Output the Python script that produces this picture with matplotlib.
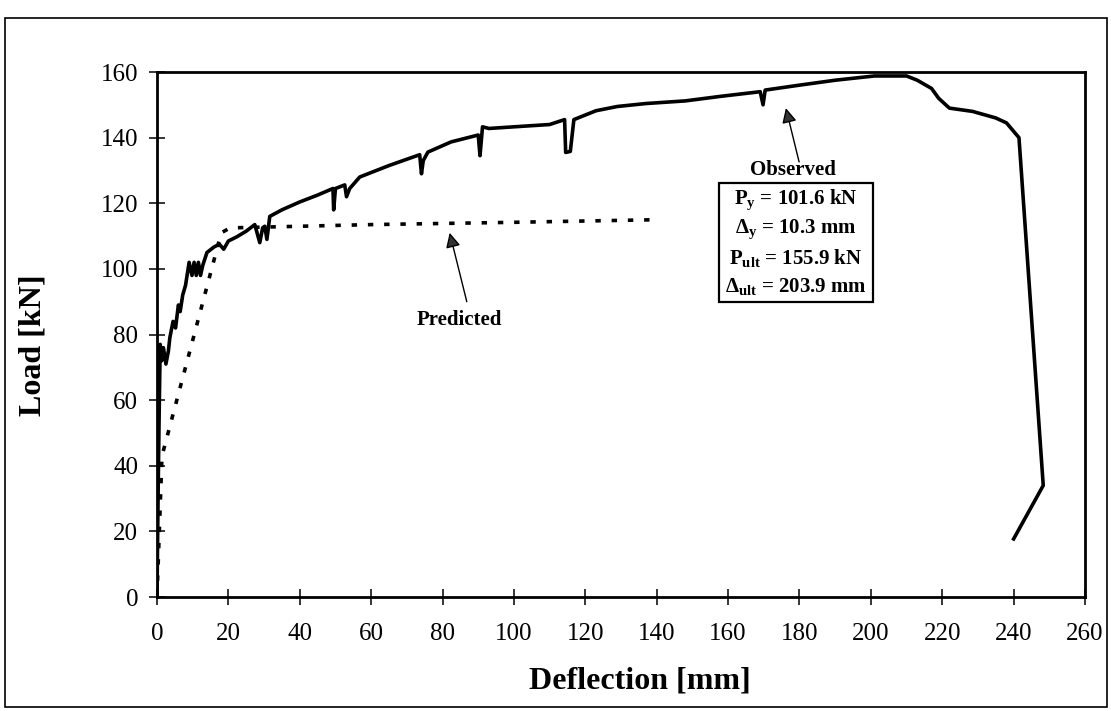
import matplotlib.pyplot as plt
from matplotlib.patches import Rectangle

# observed load-deflection curve
obs_x = [0, 0.3, 0.6, 0.9, 1.3, 1.8, 2.5, 3.2, 3.6, 4.5, 5.2, 6.0, 6.5, 7.2, 8.0, 9.0,
         9.8, 10.4, 11.0, 11.6, 12.2, 12.8, 14.0, 16.0, 17.5, 18.7, 20.0, 22.4, 25.0,
         27.4, 28.8, 29.6, 30.2, 30.8, 31.6, 35.0, 40.0, 45.0, 49.3, 49.5, 50.0, 52.6,
         53.1, 54.0, 56.8, 65.0, 73.6, 74.1, 74.6, 75.9, 82.4, 90.0, 90.5, 91.2, 93.0,
         100, 110, 114.2, 114.5, 115.8, 116.8, 123, 129, 137, 148, 158, 169, 169.8, 170.4,
         180, 190, 201, 210, 213, 217, 219, 222, 228.5, 235, 238, 241.5, 248.3, 240]
obs_y = [0, 30, 55, 77, 72, 76, 71, 75, 79, 84, 82, 89, 87, 92, 95, 102,
         98, 102, 98, 102, 98, 101, 105, 106.7, 107.5, 106, 108.5, 109.8, 111.5,
         113.5, 108, 112.5, 113, 109, 116, 118, 120.4, 122.5, 124.5, 118, 124.5, 125.6,
         122, 124.5, 128, 131.5, 134.8, 129, 133, 135.6, 138.7, 140.8, 134.5, 143.3, 142.8,
         143.3, 144, 145.5, 135.5, 135.8, 145.5, 148.2, 149.5, 150.4, 151.2, 152.6, 154, 150, 154.5,
         156, 157.5, 158.8, 158.8, 157.5, 155, 152, 149, 148, 146, 144.5, 140, 34, 17.7]

# predicted curve
pred_x = [0, 1.4, 18.0, 20.5, 60, 100, 140.3]
pred_y = [0, 43, 111, 112.5, 113.5, 114.2, 115]

box_lines = [r"$\mathbf{P_y}$ = 101.6 kN",
             r"$\mathbf{\Delta_y}$ = 10.3 mm",
             r"$\mathbf{P_{ult}}$ = 155.9 kN",
             r"$\mathbf{\Delta_{ult}}$ = 203.9 mm"]

plt.rcParams['font.family'] = 'Liberation Serif'
plt.rcParams['mathtext.fontset'] = 'custom'
plt.rcParams['mathtext.rm'] = 'Liberation Serif'
plt.rcParams['mathtext.bf'] = 'Liberation Serif:bold'

fig = plt.figure(figsize=(11.11, 7.11), dpi=100)
# outer frame of the scanned figure
fig.patches.append(Rectangle((0.0045, 0.0056), 0.992, 0.969, transform=fig.transFigure,
                             fill=False, lw=1.2, ec='black'))
ax = fig.add_axes([0.1413, 0.1603, 0.8353, 0.7384])

ax.plot(obs_x, obs_y, color='black', lw=2.6, solid_joinstyle='round')
ax.plot(pred_x, pred_y, color='black', lw=2.6, linestyle=(0, (1.5, 3.0)))

ax.set_xlim(0, 260)
ax.set_ylim(0, 160)
ax.set_xticks(range(0, 261, 20))
ax.set_yticks(range(0, 161, 20))
ax.tick_params(direction='inout', length=11, width=1.1, labelsize=18)
ax.tick_params(axis='x', pad=13)
ax.tick_params(axis='y', pad=8)
for s in ax.spines.values():
    s.set_linewidth(2)

ax.set_xlabel('Deflection [mm]', fontsize=23, fontweight='bold')
ax.set_ylabel('Load [kN]', fontsize=23, fontweight='bold')
ax.xaxis.set_label_coords(0.52, -0.133)
ax.yaxis.set_label_coords(-0.118, 0.48)

arrow = dict(arrowstyle='-|>', lw=1, color='black', fc='#333333', mutation_scale=22,
             shrinkA=0, shrinkB=0)
ax.annotate('', xy=(82, 111), xytext=(86.8, 90), arrowprops=arrow)
ax.text(84.6, 84.5, 'Predicted', ha='center', va='center', fontsize=15, fontweight='bold')

ax.annotate('', xy=(176.2, 149), xytext=(179.9, 132.6), arrowprops=arrow)
ax.text(178.2, 130.2, 'Observed', ha='center', va='center', fontsize=15, fontweight='bold')

ax.add_patch(Rectangle((157.5, 90), 43.1, 36.2, fill=False, lw=1.6, ec='black'))
for i, t in enumerate(box_lines):
    ax.text(179, 121 - i * 8.8, t, ha='center', va='center', fontsize=15, fontweight='bold')

fig.savefig('out.png', dpi=100)
